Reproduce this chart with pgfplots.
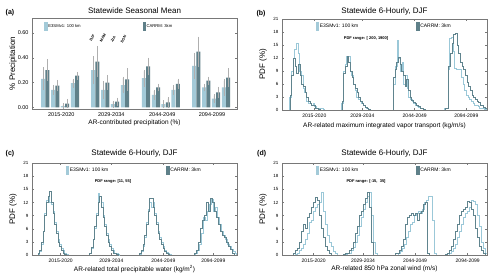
\documentclass[border=0pt]{standalone}
\usepackage{fontspec}
\setmainfont{Liberation Sans}
\usepackage{pgfplots}
\pgfplotsset{compat=1.18}

\definecolor{e3sm}{RGB}{163,202,216}
\definecolor{carrm}{RGB}{95,128,137}
\definecolor{e3line}{RGB}{155,200,216}
\definecolor{caline}{RGB}{96,132,142}
\definecolor{framec}{RGB}{120,120,120}
\definecolor{errc}{RGB}{175,175,175}

\newcommand{\fs}[1]{\fontsize{#1}{#1}\selectfont}
\tikzset{season/.style={rotate=60, anchor=west, font=\bfseries\fs{3.7}, inner sep=0pt}}

\pgfplotsset{
  base/.style={
    scale only axis, width=205pt, anchor=south west,
    axis line style={framec, line width=0.6pt},
    tick style={framec, line width=0.4pt},
    major tick length=2pt,
    /pgf/number format/assume math mode=true,
    xmin=97, xmax=712,
    legend cell align=left,
    legend style={draw=none, fill=none, legend columns=2, anchor=west,
      nodes={inner sep=1pt}},
    ylabel style={at={(axis description cs:-0.093,0.5)}, anchor=center, font=\fs{8}},
  },
  hist/.style={base,
    ymin=0, ymax=21, ytick={0,3,...,21},
    yticklabel style={font=\fs{4.5}},
    xticklabel style={font=\fs{5}},
    ylabel={PDF (\%)},
    legend style={at={(axis description cs:0.15,0.92)}, font=\fs{5},
      /tikz/every even column/.style={column sep=57pt}},
  },
  eline/.style={const plot, e3line, line width=0.55pt},
  cline/.style={const plot, caline, line width=0.55pt},
}

\begin{document}
\begin{tikzpicture}
\path[use as bounding box] (0,0) rectangle (500pt,277pt);

% ---------- (a) ----------
\begin{axis}[base, at={(32pt,168pt)}, height=91pt,
  ymin=-0.014, ymax=0.722, ytick={0,0.2,0.4,0.6},
  yticklabel style={font=\fs{5.5}, /pgf/number format/.cd, fixed, fixed zerofill, precision=2},
  xtick={185,335,488,637}, xticklabels={2015-2020,2029-2034,2044-2049,2094-2099},
  xticklabel style={font=\fs{5.5}}, xtick style={draw=none},
  ylabel={\% Precipitation},
  xlabel={AR-contributed precipitation (\%)},
  xlabel style={at={(axis description cs:0.5,-0.155)}, anchor=center, font=\fs{6.5}},
  legend style={at={(axis description cs:0.045,0.912)}, font=\fs{4.2},
    /tikz/every even column/.style={column sep=61pt}},
]
\addlegendimage{legend image code/.code={\fill[e3sm] (0pt,-3.5pt) rectangle (2.5pt,4pt);}}
\addlegendentry{E3SMv1: 100 km}
\addlegendimage{legend image code/.code={\fill[carrm] (0pt,-3.5pt) rectangle (2.5pt,4pt);}}
\addlegendentry{CARRM: 3km}
\addplot[ybar, bar width=12, bar shift=0pt, fill=e3sm, draw=none, forget plot,
  error bars/.cd, y dir=both, y explicit,
  error bar style={errc, line width=0.5pt}, error mark options={errc, line width=0.5pt, mark size=1.5pt}]
coordinates {
(130.5,0.23) +- (0,0.08)  (160.5,0.14) +- (0,0.03)  (189.5,0.01) +- (0,0.01)  (219.5,0.195) +- (0,0.025)
(280.5,0.30) +- (0,0.10)  (310.5,0.14) +- (0,0.06)  (339.5,0.025) +- (0,0.015) (369.5,0.18) +- (0,0.055)
(432.5,0.235) +- (0,0.055) (462.5,0.10) +- (0,0.03) (491.5,0.025) +- (0,0.02) (521.5,0.14) +- (0,0.03)
(583.5,0.335) +- (0,0.095) (613.5,0.16) +- (0,0.02) (642.5,0.07) +- (0,0.025) (672.5,0.16) +- (0,0.055)
};
\addplot[ybar, bar width=12, bar shift=0pt, fill=carrm, draw=none, forget plot,
  error bars/.cd, y dir=both, y explicit,
  error bar style={errc, line width=0.5pt}, error mark options={errc, line width=0.5pt, mark size=1.5pt}]
coordinates {
(143.5,0.30) +- (0,0.075) (173.5,0.175) +- (0,0.035) (202.5,0.03) +- (0,0.025) (232.5,0.255) +- (0,0.02)
(293.5,0.37) +- (0,0.115) (323.5,0.20) +- (0,0.05)  (352.5,0.045) +- (0,0.02) (382.5,0.225) +- (0,0.08)
(445.5,0.33) +- (0,0.06)  (475.5,0.16) +- (0,0.02)  (504.5,0.04) +- (0,0.03)  (534.5,0.19) +- (0,0.03)
(596.5,0.45) +- (0,0.11)  (626.5,0.215) +- (0,0.02) (655.5,0.12) +- (0,0.035) (685.5,0.24) +- (0,0.065)
};
\node[season] at (axis cs:272,0.535) {DJF};
\node[season] at (axis cs:303,0.53) {MAM};
\node[season] at (axis cs:335,0.525) {JJA};
\node[season] at (axis cs:365,0.52) {SON};
\end{axis}

% ---------- (b) ----------
\begin{axis}[hist, at={(282pt,167pt)}, height=91pt,
  xtick={194,338,495,650}, xticklabels={2015-2020,2029-2034,2044-2049,2094-2099},
  xlabel={AR-related maximum integrated vapor transport (kg/m/s)},
  xlabel style={at={(axis description cs:0.5,-0.176)}, anchor=center, font=\fs{6.5}},
]
\addlegendimage{legend image code/.code={\fill[e3sm] (0pt,-3.5pt) rectangle (2.5pt,4pt);}}
\addlegendentry{E3SMv1: 100 km}
\addlegendimage{legend image code/.code={\fill[carrm] (0pt,-3.5pt) rectangle (2.5pt,4pt);}}
\addlegendentry{CARRM: 3km}
\addplot[eline, forget plot] coordinates {(120,0)(120,3)(125,9)(130,12)(135,14)(140,15.5)(145,13)(150,9)(155,8)(160,5)(165,4)(170,2)(175,1.5)(180,1.5)(185,1)(190,1.5)(195,0.8)(200,0.5)(205,0.5)(210,0.3)(215,0.3)(220,0.2)(225,0)};
\addplot[cline, forget plot] coordinates {(121,0)(121,3.5)(126,8)(131,12)(136,10)(141,8.5)(146,10.5)(151,8)(156,6)(161,5.5)(166,4)(171,3)(176,2)(181,1.5)(186,1)(191,1)(196,0.5)(201,0.3)(206,0.2)(211,0)};
\addplot[eline, forget plot] coordinates {(276,0)(276,1.5)(281,9)(286,10.5)(291,12.5)(296,12.5)(301,9)(306,8)(311,6)(316,4.5)(321,3)(326,2.5)(331,2)(336,1.5)(341,1)(346,0.6)(351,0.4)(356,0.2)(361,0)};
\addplot[cline, forget plot] coordinates {(277,0)(277,2)(282,8.5)(287,10)(292,12.5)(297,11)(302,9)(307,7.5)(312,6)(317,5)(322,4)(327,3)(332,2)(337,1.5)(342,1)(347,0.6)(352,0.3)(357,0.2)(362,0)};
\addplot[eline, forget plot] coordinates {(432,0)(432,6)(437,10)(442,16.2)(447,12)(452,9)(457,11)(462,6)(467,8)(472,5)(477,3)(482,2.5)(487,2)(492,1.5)(497,1.2)(502,0.8)(507,0.6)(512,0.4)(517,0.3)(522,0.2)(527,0)};
\addplot[cline, forget plot] coordinates {(431,0)(431,7.5)(436,9.5)(441,11)(446,12.2)(451,10.5)(456,9)(461,8)(466,5.5)(471,7)(476,4.5)(481,3)(486,2.2)(491,1.8)(496,1.5)(501,1)(506,0.8)(511,0.5)(516,0.3)(521,0.2)(526,0)};
\addplot[eline, forget plot] coordinates {(584,0)(584,0.4)(595,9.5)(600,16.5)(605,16.8)(610,13.6)(615,9.7)(620,9.5)(625,9.5)(630,9.5)(635,7.5)(640,6)(645,4.5)(650,3.5)(655,3)(660,2.5)(665,2)(670,1.5)(675,1.2)(680,1)(685,0.8)(690,0.5)(695,0.5)(700,0.3)(705,0.2)(710,0)};
\addplot[cline, forget plot] coordinates {(586,0)(586,0.5)(597,10)(602,13)(607,15.5)(612,17.5)(617,17.6)(622,15)(627,13)(632,11)(637,10)(642,9.5)(647,8)(652,6.5)(657,5.5)(662,4.5)(667,3.5)(672,3)(677,2.5)(682,2)(687,1.8)(692,1.2)(697,1)(702,0.6)(707,0.3)(712,0)};
\node[font=\bfseries\fs{4}] at (axis description cs:0.41,0.79) {PDF range: [ 200, 1900]};
\end{axis}

% ---------- (c) ----------
\begin{axis}[hist, at={(32pt,22pt)}, height=92pt,
  xtick={183,335,491,641}, xticklabels={2015-2020,2029-2034,2044-2049,2094-2099},
  xlabel={AR-related total precipitable water (kg/m\textsuperscript{2})},
  xlabel style={at={(axis description cs:0.5,-0.152)}, anchor=center, font=\fs{6.5}},
]
\addlegendimage{legend image code/.code={\fill[e3sm] (0pt,-3.5pt) rectangle (2.5pt,4pt);}}
\addlegendentry{E3SMv1: 100 km}
\addlegendimage{legend image code/.code={\fill[carrm] (0pt,-3.5pt) rectangle (2.5pt,4pt);}}
\addlegendentry{CARRM: 3km}
\addplot[eline, forget plot] coordinates {(115,0)(115,0.2)(120,0.8)(125,2.5)(130,5.5)(135,9.5)(140,12.5)(145,13.5)(150,12)(155,11.5)(160,10)(165,7.5)(170,5.5)(175,3.5)(180,2.5)(185,1.5)(190,1)(195,0.5)(200,0.2)(205,0)};
\addplot[cline, forget plot] coordinates {(115,0)(115,0.3)(120,1)(125,3)(130,5.5)(135,9)(140,12)(145,13.5)(150,14.5)(155,12)(160,9.5)(165,7)(170,5)(175,3)(180,2)(185,1)(190,0.5)(195,0.2)(200,0)};
\addplot[eline, forget plot] coordinates {(270,0)(270,0.3)(275,1.5)(280,3.5)(285,6)(290,9.5)(295,14)(300,13.5)(305,12)(310,9)(315,7)(320,5)(325,3.5)(330,2.5)(335,1.5)(340,1)(345,0.5)(350,0.3)(355,0.1)(360,0)};
\addplot[cline, forget plot] coordinates {(270,0)(270,0.5)(275,1.8)(280,3.5)(285,6.5)(290,9)(295,12)(300,13.5)(305,11)(310,8.5)(315,6.5)(320,4.5)(325,3)(330,2)(335,1)(340,0.5)(345,0.3)(350,0.1)(355,0)};
\addplot[eline, forget plot] coordinates {(420,0)(420,0.2)(425,0.8)(430,2)(435,4)(440,7.5)(445,10.5)(450,12)(455,11)(460,12)(465,9.5)(470,7.5)(475,5.5)(480,4)(485,3)(490,2)(495,1)(500,0.6)(505,0.3)(510,0.2)(515,0)};
\addplot[cline, forget plot] coordinates {(420,0)(420,0.3)(425,1)(430,2.5)(435,4.5)(440,7)(445,10)(450,13)(455,13)(460,11)(465,9)(470,7)(475,5)(480,3.5)(485,2.5)(490,1.5)(495,0.8)(500,0.4)(505,0.2)(510,0)};
\addplot[eline, forget plot] coordinates {(586,0)(586,0.3)(592,1)(598,2.5)(604,5)(610,8.5)(616,8)(622,10)(628,11.5)(634,12.8)(640,10)(646,11)(652,8.5)(658,7)(664,5.5)(670,4.5)(676,3.5)(682,2.5)(688,2)(694,1.2)(700,0.8)(706,0.3)(710,0)};
\addplot[cline, forget plot] coordinates {(584,0)(584,0.3)(590,1)(596,3)(602,6)(608,8)(614,9)(620,12)(626,10)(632,13)(638,12)(644,10)(650,8.5)(656,7)(662,5.5)(668,4.5)(674,4)(680,3)(686,2)(692,1.2)(698,0.5)(704,0)};
\node[font=\bfseries\fs{4}] at (axis description cs:0.395,0.80) {PDF range: [11, 55]};
\end{axis}

% ---------- (d) ----------
\begin{axis}[hist, at={(282pt,22pt)}, height=92pt,
  xtick={192,340,496,654}, xticklabels={2015-2020,2029-2034,2044-2049,2094-2099},
  xlabel={AR-related 850 hPa zonal wind (m/s)},
  xlabel style={at={(axis description cs:0.5,-0.152)}, anchor=center, font=\fs{6.5}},
]
\addlegendimage{legend image code/.code={\fill[e3sm] (0pt,-3.5pt) rectangle (2.5pt,4pt);}}
\addlegendentry{E3SMv1: 100 km}
\addlegendimage{legend image code/.code={\fill[carrm] (0pt,-3.5pt) rectangle (2.5pt,4pt);}}
\addlegendentry{CARRM: 3km}
\addplot[eline, forget plot] coordinates {(136,0)(136,0.2)(142,0.5)(148,1)(154,1.5)(160,2.5)(166,3.5)(172,5)(178,7.5)(184,8)(190,10)(196,11)(202,11.5)(208,12)(214,14.3)(220,10)(226,7)(232,4.5)(238,3)(244,2)(250,0.8)(256,0.3)(262,0)};
\addplot[cline, forget plot] coordinates {(130,0)(130,0.3)(136,1)(142,1.5)(148,3)(154,5.5)(160,7)(166,6)(172,8.5)(178,9.5)(184,11)(190,12)(196,13.2)(202,12.5)(208,9)(214,6)(220,4)(226,2)(232,1)(238,0.5)(244,0)};
\addplot[eline, forget plot] coordinates {(286,0)(286,0.2)(292,0.3)(298,0.5)(304,1)(310,1.8)(316,3)(322,4.5)(328,6.5)(334,8.5)(340,10.5)(346,12)(352,13.5)(358,14.3)(364,9)(370,3)(376,0.3)(382,0)};
\addplot[cline, forget plot] coordinates {(280,0)(280,0.2)(286,0.3)(292,0.5)(298,1)(304,1.5)(310,3)(316,5)(322,6.5)(328,9)(334,10)(340,11.5)(346,13)(352,14.3)(358,11)(364,3)(370,0)};
\addplot[eline, forget plot] coordinates {(446,0)(446,0.3)(452,0.8)(458,1.5)(464,2.5)(470,4)(476,5.5)(482,7)(488,7.5)(494,9)(500,9.5)(506,10)(512,9.5)(518,10.5)(524,12)(530,12.5)(536,13.5)(542,13.3)(548,8)(554,0.5)(560,0)};
\addplot[cline, forget plot] coordinates {(436,0)(436,0.3)(442,0.5)(448,1)(454,2)(460,3.5)(466,7)(472,8.5)(478,9)(484,9.5)(490,9)(496,9.5)(502,8)(508,9.5)(514,10)(520,11.5)(526,12)(532,0.5)(538,0)};
\addplot[eline, forget plot] coordinates {(600,0)(600,0.3)(606,0.8)(612,1.5)(618,2.5)(624,4)(630,5.5)(636,7)(642,8.5)(648,9.5)(654,10)(660,11)(666,12.5)(672,12.3)(678,11.5)(684,9)(690,6.5)(696,3)(702,1.5)(708,0.5)(712,0.5)};
\addplot[cline, forget plot] coordinates {(588,0)(588,0.2)(594,0.5)(600,1)(606,2)(612,3.5)(618,5.5)(624,7)(630,9)(636,10)(642,10.5)(648,11)(654,12.3)(660,12)(666,10.5)(672,9)(678,6)(684,4)(690,2)(696,1)(702,0.3)(708,0)};
\node[font=\bfseries\fs{4}] at (axis description cs:0.41,0.80) {PDF range: [-15,\ \ 35]};
\end{axis}

% titles and panel labels
\node[font=\fs{8}] at (134.5pt,266pt) {Statewide Seasonal Mean};
\node[font=\fs{8}] at (384.5pt,265.3pt) {Statewide 6-Hourly, DJF};
\node[font=\fs{8}] at (134.5pt,124pt) {Statewide 6-Hourly, DJF};
\node[font=\fs{8}] at (384.5pt,124pt) {Statewide 6-Hourly, DJF};
\node[font=\bfseries\fs{7}] at (10pt,264.3pt) {(a)};
\node[font=\bfseries\fs{7}] at (261pt,263.7pt) {(b)};
\node[font=\bfseries\fs{7}] at (10pt,123.3pt) {(c)};
\node[font=\bfseries\fs{7}] at (261.7pt,123.3pt) {(d)};
\end{tikzpicture}
\end{document}
